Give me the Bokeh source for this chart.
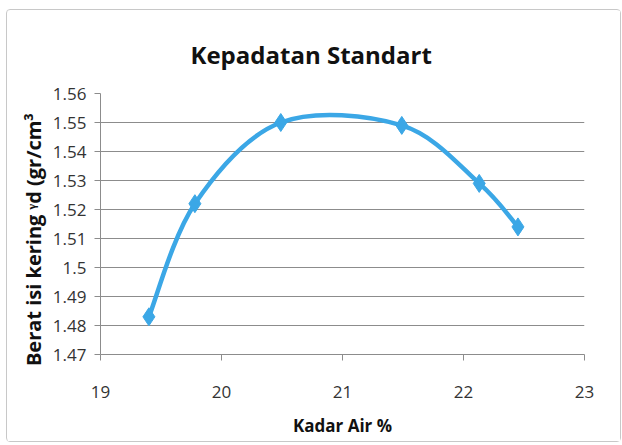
from bokeh.plotting import figure
from bokeh.models import FixedTicker, CustomJSTickFormatter, Range1d
from bokeh.embed import file_html
from bokeh.resources import INLINE

# Data
kadar_air = [19.40, 19.78, 20.49, 21.49, 22.13, 22.45]
berat_isi = [1.483, 1.522, 1.550, 1.549, 1.529, 1.514]
x_ticks = [19, 20, 21, 22, 23]
y_ticks = [1.47, 1.48, 1.49, 1.50, 1.51, 1.52, 1.53, 1.54, 1.55, 1.56]

COLOR = "#3BA7E6"
FONT = "Open Sans"

p = figure(width=615, height=433, output_backend="svg", toolbar_location=None,
           x_range=Range1d(19, 23), y_range=Range1d(1.47, 1.56),
           title="Kepadatan Standart",
           min_border_left=93, min_border_right=38, min_border_top=83, min_border_bottom=89)
p.styles = {"border": "1px solid #c8c8c8", "border-radius": "4px",
            "box-sizing": "border-box", "margin": "9px 0 0 6px"}

p.title.align = "left"
p.title.text_font = FONT
p.title.text_font_size = "24px"
p.title.text_font_style = "bold"
p.title.text_color = "#111111"
p.title.offset = 90
p.title.standoff = 46

# Smooth line through points (Catmull-Rom style Bezier, like spreadsheet smoothing)
n = len(kadar_air)
x0s, y0s, x1s, y1s, cx0, cy0, cx1, cy1 = [], [], [], [], [], [], [], []
for i in range(n - 1):
    pm = (kadar_air[max(i - 1, 0)], berat_isi[max(i - 1, 0)])
    p0 = (kadar_air[i], berat_isi[i])
    p1 = (kadar_air[i + 1], berat_isi[i + 1])
    p2 = (kadar_air[min(i + 2, n - 1)], berat_isi[min(i + 2, n - 1)])
    x0s.append(p0[0]); y0s.append(p0[1]); x1s.append(p1[0]); y1s.append(p1[1])
    cx0.append(p0[0] + (p1[0] - pm[0]) / 6); cy0.append(p0[1] + (p1[1] - pm[1]) / 6)
    cx1.append(p1[0] - (p2[0] - p0[0]) / 6); cy1.append(p1[1] - (p2[1] - p0[1]) / 6)

p.bezier(x0=x0s, y0=y0s, x1=x1s, y1=y1s, cx0=cx0, cy0=cy0, cx1=cx1, cy1=cy1,
         line_color=COLOR, line_width=4.5)
p.scatter(kadar_air, berat_isi, marker="diamond", size=18, fill_color=COLOR,
          line_color=COLOR)

p.outline_line_color = None
p.xgrid.grid_line_color = None
p.ygrid.grid_line_color = "#8c8c8c"
p.ygrid.grid_line_width = 1

p.xaxis.ticker = FixedTicker(ticks=x_ticks)
p.yaxis.ticker = FixedTicker(ticks=y_ticks)
p.yaxis.formatter = CustomJSTickFormatter(code="return tick.toFixed(2).replace(/0$/, '');")

for ax in (p.xaxis[0], p.yaxis[0]):
    ax.axis_line_color = "#8c8c8c"
    ax.major_tick_line_color = "#8c8c8c"
    ax.major_tick_out = 6
    ax.major_tick_in = 0
    ax.minor_tick_line_color = None
    ax.major_label_text_font = FONT
    ax.major_label_text_font_size = "17px"
    ax.major_label_text_color = "#333333"
    ax.axis_label_text_font = FONT
    ax.axis_label_text_font_style = "bold"
    ax.axis_label_text_color = "#111111"

p.xaxis.axis_label = "Kadar Air %"
p.yaxis.axis_label = "Berat isi kering \u1d5ed (gr/cm\u00b3" + "\u00a0" * 6
p.xaxis.axis_label_text_font_size = "17px"
p.yaxis.axis_label_text_font_size = "20px"
p.xaxis.major_label_standoff = 25
p.yaxis.major_label_standoff = 8
p.xaxis.axis_label_standoff = 13
p.yaxis.axis_label_standoff = 3

open("out.html", "w").write(file_html(p, INLINE))
